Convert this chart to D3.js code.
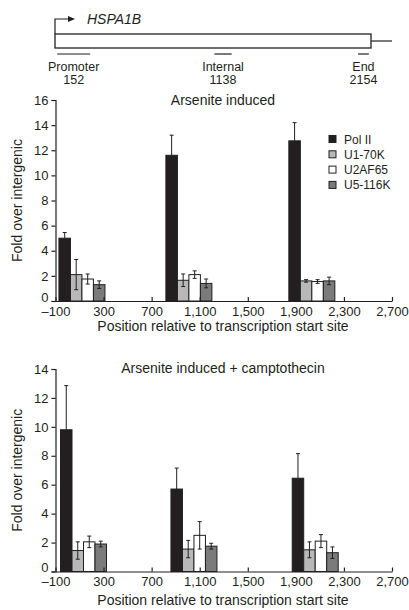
<!DOCTYPE html>
<html>
<head>
<meta charset="utf-8">
<script src="https://cdn.jsdelivr.net/npm/d3@7"></script>
<style>
  body { margin: 0; background: #fff; }
  svg { font-family: Arial, "Liberation Sans", Helvetica, sans-serif; }
  text { fill: #231f20; }
</style>
</head>
<body>
<svg width="409" height="610"></svg>
<script>
// --- data ---
const series = ['Pol II', 'U1-70K', 'U2AF65', 'U5-116K'];
const xTicks = [-100, 300, 700, 1100, 1500, 1900, 2300, 2700];

// amplicons on the gene diagram: [name, label position, start bp, end bp]
const ampliconNames = ['Promoter', 'Internal', 'End'];
const ampliconPos = [152, 1138, 2154];
const ampliconSpan = [[15, 245], [1110, 1230], [2110, 2185]];

// panel 1: arsenite induced (rows = amplicon group, cols = series)
const arsPos = [120, 1010, 2033];
const arsMean = [
  [5.0, 2.1, 1.75, 1.3],
  [11.6, 1.65, 2.1, 1.4],
  [12.75, 1.6, 1.55, 1.6]
];
const arsErr = [
  [0.45, 1.2, 0.4, 0.3],
  [1.6, 0.5, 0.3, 0.35],
  [1.45, 0.1, 0.15, 0.3]
];

// panel 2: arsenite induced + camptothecin
const campPos = [133, 1052, 2061];
const campMean = [
  [9.8, 1.45, 2.05, 1.9],
  [5.7, 1.55, 2.5, 1.75],
  [6.45, 1.5, 2.1, 1.3]
];
const campErr = [
  [3.05, 0.6, 0.4, 0.2],
  [1.45, 0.6, 0.95, 0.2],
  [1.7, 0.55, 0.45, 0.4]
];

const colors = ['#231f20', '#b8b8b8', '#ffffff', '#7b7b7b'];
const ink = '#231f20';

const svg = d3.select('svg');

// --- gene diagram ---
let gx = d3.scaleLinear().domain([0, 2200]).range([55, 371]);
let gene = svg.append('g');

gene.append('rect')
  .attr('x', gx(0)).attr('y', 34)
  .attr('width', gx(2200) - gx(0)).attr('height', 14)
  .attr('fill', 'none').attr('stroke', ink).attr('stroke-width', 1.3);
gene.append('line')
  .attr('x1', gx(2200)).attr('x2', 392).attr('y1', 41).attr('y2', 41)
  .attr('stroke', ink).attr('stroke-width', 1.2);

// transcription start arrow
gene.append('path')
  .attr('d', `M${gx(0)},34 V19 H${gx(0) + 14}`)
  .attr('fill', 'none').attr('stroke', ink).attr('stroke-width', 1.2);
gene.append('path')
  .attr('d', `M${gx(0) + 20},19 l-7,-3 v6 z`)
  .attr('fill', ink);
gene.append('text')
  .attr('x', 87).attr('y', 24)
  .style('font-size', '14px').style('font-style', 'italic')
  .text('HSPA1B');

ampliconNames.forEach((name, i) => {
  let [s, e] = ampliconSpan[i];
  gene.append('line')
    .attr('x1', gx(s)).attr('x2', gx(e)).attr('y1', 54).attr('y2', 54)
    .attr('stroke', ink).attr('stroke-width', 1.2);
  let cx = (gx(s) + gx(e)) / 2;
  gene.append('text')
    .attr('x', cx).attr('y', 71).attr('text-anchor', 'middle')
    .style('font-size', '12.5px').text(name);
  gene.append('text')
    .attr('x', cx).attr('y', 84).attr('text-anchor', 'middle')
    .style('font-size', '12.5px').text(ampliconPos[i]);
});

// --- bar panels ---
function drawPanel(opts) {
  let { title, pos, mean, err, yMax, yTop, yBottom, titleY, tickY, labelY, legend } = opts;

  let x = d3.scaleLinear().domain([-100, 2700]).range([55.5, 392]);
  let y = d3.scaleLinear().domain([0, yMax]).range([yBottom, yTop]);
  let barW = 11.5;

  let g = svg.append('g');

  // bars
  pos.forEach((p, gi) => {
    let cx = x(p);
    series.forEach((s, si) => {
      let bx = cx - 2 * barW + si * barW;
      let v = mean[gi][si];
      let e = err[gi][si];
      g.append('rect')
        .attr('x', bx).attr('y', y(v))
        .attr('width', barW).attr('height', y(0) - y(v))
        .attr('fill', colors[si]).attr('stroke', ink).attr('stroke-width', 1);
      let mx = bx + barW / 2;
      let lo = si === 0 ? v : v - e;
      g.append('line')
        .attr('x1', mx).attr('x2', mx).attr('y1', y(lo)).attr('y2', y(v + e))
        .attr('stroke', ink).attr('stroke-width', 1);
      g.append('line')
        .attr('x1', mx - 2).attr('x2', mx + 2).attr('y1', y(v + e)).attr('y2', y(v + e))
        .attr('stroke', ink).attr('stroke-width', 1);
      if (si !== 0) {
        g.append('line')
          .attr('x1', mx - 2).attr('x2', mx + 2).attr('y1', y(v - e)).attr('y2', y(v - e))
          .attr('stroke', ink).attr('stroke-width', 1);
      }
    });
  });

  // y axis
  let yAxis = g.append('g')
    .attr('transform', `translate(${x(-100)},0)`)
    .call(d3.axisLeft(y).tickValues(d3.range(0, yMax + 1, 2)).tickSize(4).tickPadding(3));
  yAxis.selectAll('text').style('font-size', '13px').attr('fill', ink);
  // lift the "0" a touch so it clears the first x label
  yAxis.selectAll('.tick').filter(d => d === 0).select('text').attr('y', -4);

  // x axis, ticks pointing up
  let xAxis = g.append('g')
    .attr('transform', `translate(0,${y(0)})`)
    .call(d3.axisBottom(x).tickValues(xTicks).tickSize(0).tickPadding(0)
      .tickFormat(d => d < 0 ? '\u2013' + Math.abs(d) : d3.format(',')(d)));
  xAxis.selectAll('.tick line').attr('y2', -4);
  xAxis.selectAll('text')
    .attr('y', tickY - y(0)).attr('dy', null)
    .style('font-size', '13px').attr('fill', ink);

  svg.selectAll('.domain').attr('stroke', ink).attr('stroke-width', 1.2);
  svg.selectAll('.tick line').attr('stroke', ink).attr('stroke-width', 1.2);

  g.append('text')
    .attr('x', 223).attr('y', titleY).attr('text-anchor', 'middle')
    .style('font-size', '14px').text(title);

  g.append('text')
    .attr('x', 223).attr('y', labelY).attr('text-anchor', 'middle')
    .style('font-size', '14px').text('Position relative to transcription start site');

  g.append('text')
    .attr('transform', `translate(22,${(yTop + yBottom) / 2}) rotate(-90)`)
    .attr('text-anchor', 'middle')
    .style('font-size', '14px').text('Fold over intergenic');

  if (legend) {
    let lg = g.append('g').attr('transform', 'translate(329,139)');
    series.forEach((s, i) => {
      lg.append('rect')
        .attr('x', 0).attr('y', i * 15.3 - 3.5)
        .attr('width', 7).attr('height', 7)
        .attr('fill', colors[i]).attr('stroke', ink).attr('stroke-width', 1);
      lg.append('text')
        .attr('x', 15).attr('y', i * 15.3 + 4.5)
        .style('font-size', '12px').text(s);
    });
  }
}

drawPanel({
  title: 'Arsenite induced',
  pos: arsPos, mean: arsMean, err: arsErr,
  yMax: 16, yTop: 100, yBottom: 301,
  titleY: 105, tickY: 315.5, labelY: 331, legend: true
});

drawPanel({
  title: 'Arsenite induced + camptothecin',
  pos: campPos, mean: campMean, err: campErr,
  yMax: 14, yTop: 369, yBottom: 571.5,
  titleY: 373, tickY: 586, labelY: 605, legend: false
});
</script>
</body>
</html>
